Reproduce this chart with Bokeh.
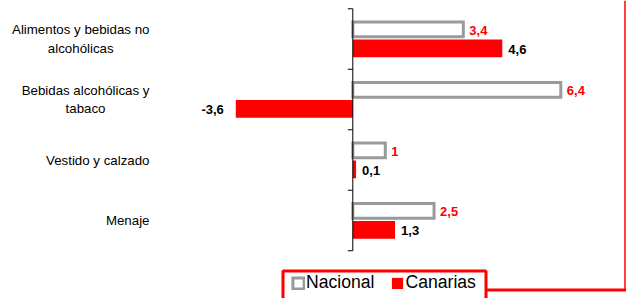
from bokeh.plotting import figure
from bokeh.models import ColumnDataSource, Range1d, Legend, LegendItem
from bokeh.core.properties import value
from bokeh.embed import file_html
from bokeh.resources import INLINE

# ---- data ----
categories = ["Alimentos y bebidas no\nalcohólicas", "Bebidas alcohólicas y\ntabaco",
              "Vestido y calzado", "Menaje"]
nacional = [3.4, 6.4, 1.0, 2.5]
canarias = [4.6, -3.6, 0.1, 1.3]
series_names = ["Nacional", "Canarias"]

# ---- layout constants (pixels) ----
W, H = 626, 298
PX = 32.5          # pixels per unit on x
ZERO_PX = 352.3    # x pixel of zero
YPX = 60.5         # pixels per category
CAT0_PX = 38.5     # y pixel of first category centre

x_start = -ZERO_PX / PX
x_end = (W - ZERO_PX) / PX
y_top = -CAT0_PX / YPX
y_bot = (H - CAT0_PX) / YPX

def dx(px):   # screen x pixel -> data x
    return x_start + px / PX

def dy(py):   # screen y pixel -> data y
    return (py - CAT0_PX) / YPX

FONT = "Liberation Sans"
RED = "#FF0000"
GRAY = "#9A9A9A"

p = figure(width=W, height=H, output_backend="svg", toolbar_location=None,
           x_range=Range1d(x_start, x_end), y_range=Range1d(y_bot, y_top),
           min_border=0, min_border_left=0, min_border_right=0,
           min_border_top=0, min_border_bottom=0)
p.xaxis.visible = False
p.yaxis.visible = False
p.grid.visible = False
p.outline_line_color = None
p.background_fill_color = "white"
p.border_fill_color = "white"

idx = list(range(len(categories)))
n = len(categories)

def fmt(v):
    return f"{v:g}".replace(".", ",")

nac_off, nac_h = -9.6 / YPX, 14.7 / YPX
can_off, can_h = 9.4 / YPX, 17.7 / YPX

def make_src(vals, off):
    return ColumnDataSource(dict(
        y=[i + off for i in idx], v=vals,
        lab=[fmt(v) for v in vals],
        off=[6 if v >= 0 else -12 for v in vals],
        al=["left" if v >= 0 else "right" for v in vals]))

src_n = make_src(nacional, nac_off)
src_c = make_src(canarias, can_off)

r_n = p.hbar(y="y", left=0, right="v", height=nac_h, source=src_n,
             fill_color="white", line_color=GRAY, line_width=3, line_join="miter")
r_c = p.hbar(y="y", left=0, right="v", height=can_h, source=src_c,
             fill_color=RED, line_color=None)

# value labels
for src, col in ((src_n, RED), (src_c, "black")):
    p.text(x="v", y="y", text="lab", source=src, x_offset="off", text_align="al",
           y_offset=1, text_baseline="middle", text_font=value(FONT),
           text_font_size="13px", text_font_style="bold", text_color=col)

# vertical category axis at zero
p.segment(x0=[0], y0=[-0.5], x1=[0], y1=[n - 0.5], line_color="black", line_width=1)
p.segment(x0=[-5 / PX] * (n + 1), y0=[i - 0.5 for i in range(n + 1)],
          x1=[0] * (n + 1), y1=[i - 0.5 for i in range(n + 1)],
          line_color="black", line_width=1)

# category labels
p.text(x=[dx(149)] * n, y=idx, text=categories, anchor="center_right",
       text_align="center", text_baseline="middle", text_font=value(FONT),
       text_font_size="13.3px", text_color="black", text_line_height=1.25)

# decorative red frame lines
p.segment(x0=[dx(624.5)], y0=[y_top], x1=[dx(624.5)], y1=[dy(289.5)],
          line_color=RED, line_width=1.5)
p.segment(x0=[dx(486)], y0=[dy(289.5)], x1=[x_end], y1=[dy(289.5)],
          line_color=RED, line_width=3)

# legend frame
p.quad(left=[dx(282.5)], right=[dx(485.5)], top=[dy(270.5)], bottom=[dy(310)],
       fill_color="white", line_color=RED, line_width=3)

legend = Legend(items=[LegendItem(label=series_names[0], renderers=[r_n]),
                       LegendItem(label=series_names[1], renderers=[r_c])],
                location=(291, 5), orientation="horizontal",
                border_line_color=None, background_fill_alpha=0,
                label_text_font=FONT, label_text_font_size="17.6px",
                label_text_color="black", glyph_width=14, glyph_height=14,
                label_standoff=1, spacing=16, padding=10, margin=0,
                label_height=14)
p.add_layout(legend)

open("out.html", "w").write(file_html(p, INLINE))
